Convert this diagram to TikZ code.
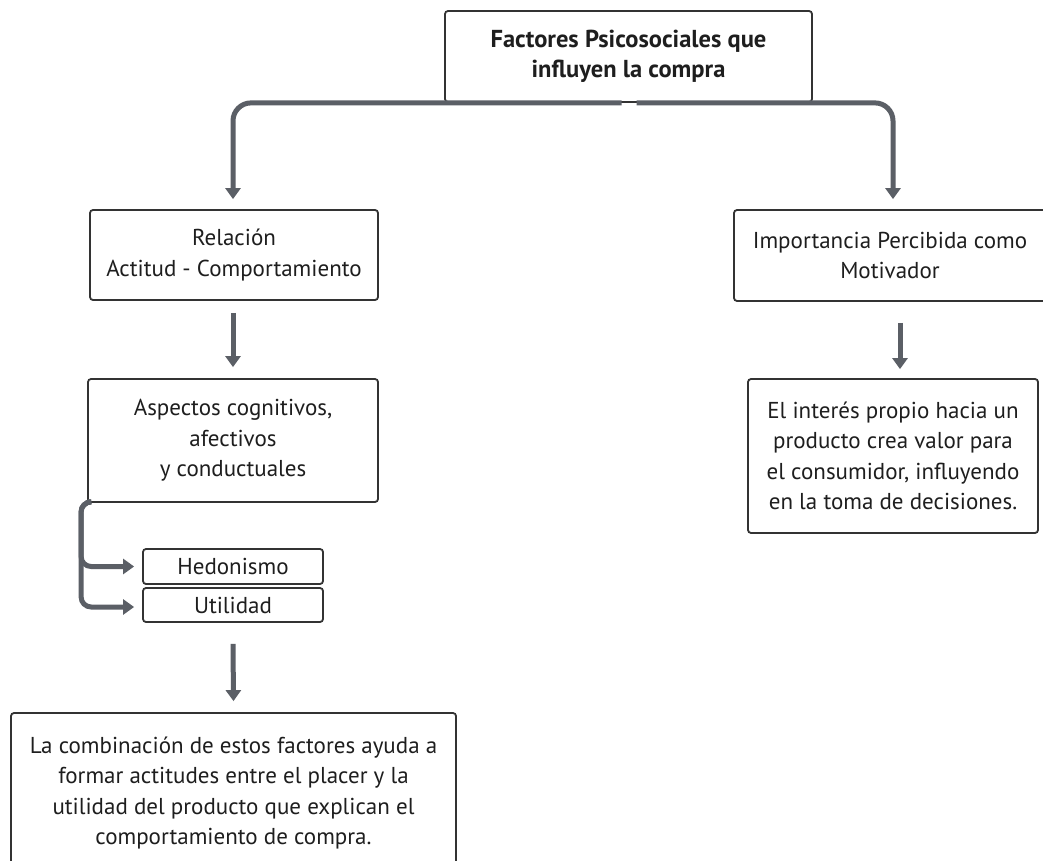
\documentclass[tikz,border=0pt]{standalone}
\usepackage{fontspec}
\setmainfont{PT Sans}
\usetikzlibrary{arrows.meta,calc}
\definecolor{conncol}{HTML}{5B5F66}
\definecolor{boxcol}{HTML}{333333}
\definecolor{txtcol}{HTML}{1E1E1E}
\tikzset{
  box/.style={draw=boxcol,line width=1.8pt,rounded corners=3pt,fill=white,
    align=center,text=txtcol,inner sep=0pt,
    font=\fontsize{23}{30.5}\selectfont},
  conn/.style={draw=conncol,line width=5pt,-{Triangle[width=15pt,length=11pt]}},
}
\begin{document}
\begin{tikzpicture}[x=1pt,y=-1pt]
\useasboundingbox (0,0) rectangle (1043,861);
\clip (0,0) rectangle (1043,861);
\fill[white] (0,0) rectangle (1043,861);

\node[box,minimum width=367pt,minimum height=91pt,font=\fontsize{24.5}{30.5}\selectfont\bfseries] (top) at (628.5,56.5)
  {Factores Psicosociales que\\influyen la compra};
\node[box,minimum width=288pt,minimum height=90pt] (rel) at (234,255)
  {Relación\\Actitud - Comportamiento};
\node[box,minimum width=290pt,minimum height=123pt] (asp) at (233,440.5)
  {Aspectos cognitivos,\\afectivos\\y conductuales};
\node[box,minimum width=180pt,minimum height=35pt] (hed) at (233,566.5) {Hedonismo};
\node[box,minimum width=180pt,minimum height=34pt] (uti) at (233,605) {Utilidad};
\node[box,minimum width=445pt,minimum height=160pt] (comb) at (233.5,793)
  {La combinación de estos factores ayuda a\\formar actitudes entre el placer y la\\utilidad del producto que explican el\\comportamiento de compra.};
\node[box,minimum width=312pt,minimum height=91pt] (imp) at (890,255.5)
  {Importancia Percibida como\\Motivador};
\node[box,minimum width=290pt,minimum height=154pt] (int) at (893,456)
  {El interés propio hacia un\\producto crea valor para\\el consumidor, influyendo\\en la toma de decisiones.};

\draw[conn,rounded corners=18pt] ($(top.south)+(-7,0)$) -| ($(rel.north)+(-1,-10)$);
\draw[conn,rounded corners=18pt] ($(top.south)+(8,0)$) -| ($(imp.north)+(3,-10)$);
\draw[conn] ($(rel.south)+(-1,12)$) -- ($(asp.north)+(0,-11)$);
\draw[conn,rounded corners=10pt] ($(asp.south west)+(1,-1)$) -| ($(hed.west)+(-61,0)$) -- ($(hed.west)+(-8,0)$);
\draw[conn,rounded corners=10pt] ($(asp.south west)+(1,-1)$) -| ($(uti.west)+(-61,2)$) -- ($(uti.west)+(-8,2)$);
\draw[conn] ($(uti.south)+(0,21)$) -- ($(comb.north)+(0,-11)$);
\draw[conn] ($(imp.south)+(10,21)$) -- ($(int.north)+(7,-9)$);
\end{tikzpicture}
\end{document}
